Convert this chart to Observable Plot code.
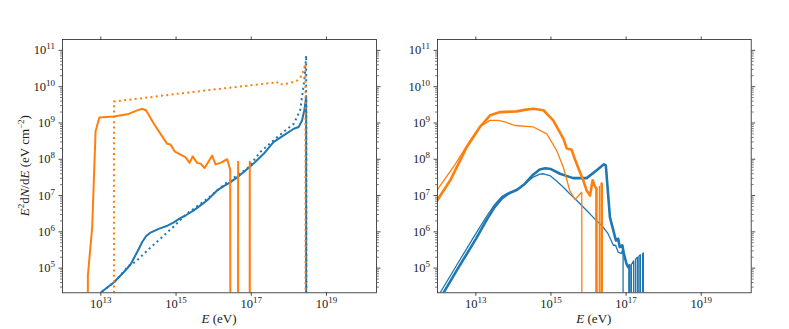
<!DOCTYPE html>
<html><head><meta charset="utf-8">
<script src="https://cdn.jsdelivr.net/npm/d3@7"></script>
<script src="https://cdn.jsdelivr.net/npm/@observablehq/plot@0.6"></script>
<style>
html,body{margin:0;padding:0;background:#fff;}
#chart{position:relative;width:789px;height:329px;overflow:hidden;background:#fff;}
#chart svg{position:absolute;top:0;background:transparent;}
#chart svg text{font-family:"Liberation Serif","DejaVu Serif",serif;}
</style></head><body><div id="chart"></div>
<script>
// Z marks a zero flux bin (drawn as a drop to the bottom, as on a log axis)
const Z = null;

// tick exponents
const xTickExponents = [13, 15, 17, 19];
const yTickExponents = [5, 6, 7, 8, 9, 10, 11];

// series: [log10 E (eV), log10 E^2 dN/dE (eV cm^-2)]
// left panel
const leftBlueSolid = [[12.90,4.10],[13.00,4.33],[13.35,4.61],[13.60,4.88],[13.79,5.10],[13.97,5.45],[14.10,5.72],[14.20,5.88],[14.32,5.98],[14.54,6.08],[14.75,6.16],[14.94,6.26],[15.10,6.37],[15.25,6.45],[15.47,6.59],[15.65,6.73],[15.83,6.87],[16.09,7.14],[16.30,7.28],[16.45,7.37],[16.62,7.50],[16.80,7.65],[17.06,7.88],[17.33,8.15],[17.59,8.47],[17.86,8.66],[18.13,8.84],[18.26,8.89],[18.35,9.07],[18.41,9.35],[18.46,9.71],[18.47,Z]];
const leftBlueDotted = [[12.90,4.10],[13.00,4.33],[13.35,4.61],[13.75,5.07],[13.92,5.17],[14.20,5.45],[14.58,5.81],[14.94,6.15],[15.29,6.50],[15.83,6.91],[16.36,7.37],[16.89,7.74],[17.24,8.20],[17.69,8.61],[18.13,8.98],[18.30,9.35],[18.41,10.17],[18.46,10.86],[18.47,Z]];
const leftOrangeSolid = [[12.64,Z],[12.655,4.80],[12.77,6.13],[12.86,8.77],[12.96,9.15],[13.35,9.18],[13.74,9.25],[13.95,9.34],[14.10,9.39],[14.20,9.35],[14.41,8.98],[14.60,8.68],[14.76,8.43],[14.85,8.41],[14.96,8.22],[15.12,8.13],[15.25,8.06],[15.36,7.90],[15.44,8.08],[15.56,7.90],[15.65,7.88],[15.76,7.76],[15.96,8.10],[16.05,7.86],[16.18,7.90],[16.36,8.00],[16.44,7.71],[16.47,Z],[16.63,Z],[16.65,7.93],[16.67,Z],[16.94,Z],[16.96,7.93],[16.98,Z]];
const leftOrangeDotted = [[13.34,Z],[13.35,9.59],[14.00,9.67],[15.00,9.80],[16.00,9.92],[17.00,10.04],[17.60,10.11],[17.67,10.14],[17.75,10.06],[18.00,10.09],[18.22,10.17],[18.35,10.31],[18.44,10.63],[18.46,Z]];

// right panel
const rightBlueThin = [[11.98,4.15],[12.05,4.32],[12.50,5.10],[13.00,5.95],[13.30,6.45],[13.50,6.75],[13.70,6.98],[13.85,7.07],[14.00,7.12],[14.20,7.22],[14.40,7.40],[14.53,7.51],[14.70,7.59],[14.80,7.60],[14.97,7.55],[15.15,7.40],[15.33,7.23],[15.50,7.05],[15.68,6.87],[15.95,6.59],[16.21,6.31],[16.39,6.13],[16.52,5.95],[16.66,5.63],[16.72,5.63],[16.79,5.44],[16.88,5.40],[16.92,5.58],[16.93,Z],[17.13,Z],[17.14,5.10],[17.20,5.20],[17.21,Z],[17.24,Z],[17.25,5.24],[17.30,5.30],[17.31,Z],[17.33,Z],[17.34,5.33],[17.38,5.37],[17.39,Z],[17.43,Z],[17.44,5.40],[17.46,5.42],[17.47,Z]];
const rightBlueThick = [[12.05,4.15],[12.14,4.32],[12.50,4.95],[13.00,5.80],[13.30,6.35],[13.50,6.68],[13.70,6.93],[13.90,7.07],[14.10,7.16],[14.30,7.32],[14.50,7.55],[14.70,7.72],[14.85,7.75],[15.00,7.73],[15.24,7.60],[15.59,7.48],[15.95,7.48],[16.21,7.69],[16.41,7.86],[16.46,7.83],[16.57,6.40],[16.66,6.04],[16.73,5.76],[16.79,5.81],[16.83,5.58],[16.90,5.63],[16.94,5.40],[17.01,5.12],[17.05,5.03],[17.09,5.08],[17.10,Z]];
const rightOrangeThick = [[11.90,6.75],[12.32,7.42],[12.76,8.34],[13.11,8.89],[13.38,9.21],[13.65,9.30],[14.09,9.32],[14.30,9.36],[14.53,9.39],[14.80,9.35],[15.06,9.07],[15.33,8.57],[15.42,8.30],[15.47,8.28],[15.55,8.26],[15.62,8.05],[15.75,7.70],[15.86,7.42],[15.95,7.14],[16.04,7.00],[16.11,7.42],[16.17,7.25],[16.21,7.20],[16.23,Z],[16.33,Z],[16.35,7.33],[16.37,Z]];
const rightOrangeThin = [[11.90,7.05],[12.40,7.78],[12.85,8.52],[13.11,8.90],[13.38,9.07],[13.60,9.07],[13.80,9.02],[14.04,8.93],[14.53,8.89],[14.89,8.70],[15.15,8.24],[15.33,7.78],[15.50,7.14],[15.64,6.89],[15.82,7.09],[15.84,Z],[16.27,Z],[16.29,7.25],[16.31,Z]];

const BLUE = "#1f77b4", ORANGE = "#ff7f0e";
const FONT = "'Liberation Serif', 'DejaVu Serif', serif";
const FLOOR = 1e-30;
const rows = s => s.map(([e, v]) => ({E: 10 ** e, F: v === Z ? FLOOR : 10 ** v}));

const xMajor = xTickExponents.map(n => 10 ** n);
const yMajor = yTickExponents.map(n => 10 ** n);
const yMinor = [];
for (let n = 4; n <= 11; n++) for (let k = 2; k <= 9; k++) {
  const v = k * 10 ** n;
  if (v > 10 ** 4.32 && v < 10 ** 11.3) yMinor.push(v);
}
const fmt = d => "10^" + Math.round(Math.log10(d));
const blank = () => "";
const NS = "http://www.w3.org/2000/svg";

function rich(el, parts, raise, supSize) {
  el.textContent = "";
  let shift = 0;
  for (const p of parts) {
    const t = document.createElementNS(NS, "tspan");
    t.textContent = p.t;
    if (p.i) t.setAttribute("font-style", "italic");
    const target = p.sup ? -raise : 0;
    if (target !== shift) { t.setAttribute("dy", target - shift); shift = target; }
    if (p.sup) t.setAttribute("font-size", supSize);
    el.appendChild(t);
  }
}

function panel({left, width, marginLeft, marginRight, series, ylabel}) {
  const svg = Plot.plot({
    width, height: 329, marginLeft, marginRight, marginTop: 39, marginBottom: 36.7,
    style: {fontFamily: FONT, fontSize: "12.5px", color: "#222", background: "transparent"},
    x: {type: "log", domain: [10 ** 11.98, 10 ** 20.33], axis: null},
    y: {type: "log", domain: [10 ** 4.32, 10 ** 11.3], axis: null},
    marks: [
      ...series.map(s => Plot.line(rows(s.data), {
        x: "E", y: "F", stroke: s.color, strokeWidth: s.width,
        strokeDasharray: s.dash, strokeLinecap: s.dash ? "butt" : "round",
        strokeLinejoin: "round", clip: true
      })),
      Plot.frame({stroke: "#222", strokeWidth: 0.8}),
      Plot.axisX({anchor: "bottom", ticks: xMajor, tickSize: 3.5, tickPadding: 3, tickFormat: fmt, label: null, strokeWidth: 0.8}),
      Plot.axisX({anchor: "top", ticks: xMajor, tickSize: 3.5, tickFormat: blank, label: null, strokeWidth: 0.8}),
      Plot.axisY({anchor: "left", ticks: yMajor, tickSize: 3.5, tickPadding: 4, tickFormat: fmt, label: null, strokeWidth: 0.8}),
      Plot.axisY({anchor: "left", ticks: yMinor, tickSize: 2, tickFormat: blank, label: null, strokeWidth: 0.6}),
      Plot.axisY({anchor: "right", ticks: yMajor, tickSize: 3.5, tickFormat: blank, label: null, strokeWidth: 0.8}),
      Plot.axisY({anchor: "right", ticks: yMinor, tickSize: 2, tickFormat: blank, label: null, strokeWidth: 0.6})
    ]
  });
  svg.style.left = left + "px";
  // superscript exponents in tick labels
  svg.querySelectorAll("text").forEach(el => {
    const m = /^10\^(\d+)$/.exec(el.textContent);
    if (m) {
      el.setAttribute("font-family", FONT);
      rich(el, [{t: "10"}, {t: m[1], sup: true}], 5, "9px");
    }
  });
  const sel = d3.select(svg);
  const cx = marginLeft + (width - marginLeft - marginRight) / 2;
  const xl = sel.append("text").attr("x", cx).attr("y", 323)
    .attr("text-anchor", "middle").attr("font-size", "13px").attr("font-family", FONT).attr("fill", "#222");
  rich(xl.node(), [{t: "E", i: true}, {t: " (eV)"}], 0, null);
  if (ylabel) {
    const yl = sel.append("text").attr("transform", `translate(28.5,165.7) rotate(-90)`)
      .attr("text-anchor", "middle").attr("font-size", "13px").attr("font-family", FONT).attr("fill", "#222");
    rich(yl.node(), [{t: "E", i: true}, {t: "2", sup: true}, {t: "d"}, {t: "N", i: true}, {t: "/d"}, {t: "E", i: true},
      {t: " (eV cm"}, {t: "−2", sup: true}, {t: ")"}], 5, "9px");
  }
  document.getElementById("chart").appendChild(svg);
}

panel({left: 0, width: 400, marginLeft: 62, marginRight: 24, ylabel: true, series: [
  {data: leftBlueDotted, color: BLUE, width: 2, dash: "2,3.3"},
  {data: leftBlueSolid, color: BLUE, width: 2},
  {data: leftOrangeDotted, color: ORANGE, width: 2, dash: "2,3.3"},
  {data: leftOrangeSolid, color: ORANGE, width: 2}
]});
panel({left: 400, width: 389, marginLeft: 37, marginRight: 38.3, ylabel: false, series: [
  {data: rightBlueThin, color: BLUE, width: 1.3},
  {data: rightBlueThick, color: BLUE, width: 2.6},
  {data: rightOrangeThin, color: ORANGE, width: 1.3},
  {data: rightOrangeThick, color: ORANGE, width: 2.6}
]});
</script></body></html>
